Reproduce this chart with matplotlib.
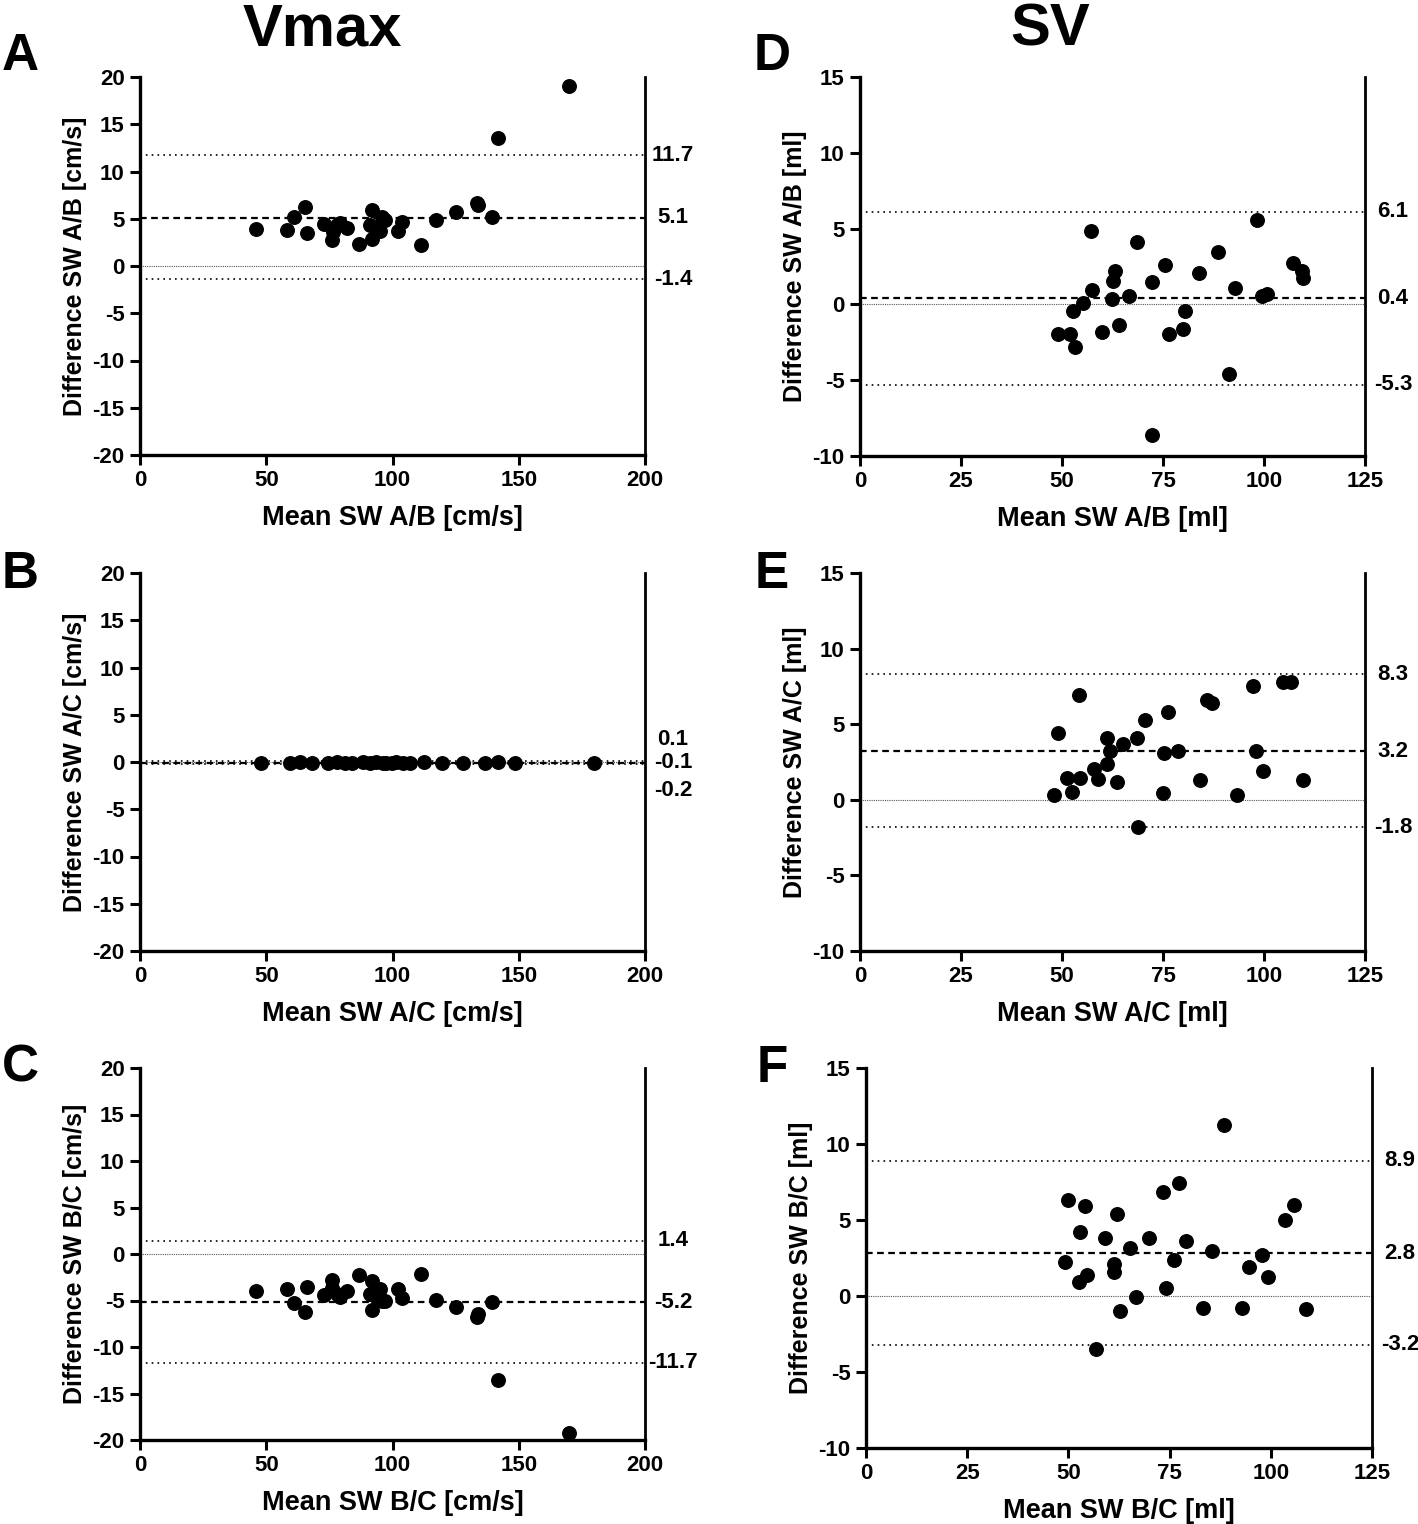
import matplotlib
matplotlib.use("Agg")
import matplotlib.pyplot as plt

plt.rcParams['font.family'] = ['Liberation Sans', 'DejaVu Sans']
plt.rcParams['font.weight'] = 'bold'
plt.rcParams['axes.unicode_minus'] = False

# ---------------- data ----------------
# Panel A: Vmax, SW A vs B
mean_A = [45.8, 58.1, 61.1, 65.3, 66.1, 72.9, 75.9, 76.5, 78.0, 79.2, 81.9, 86.9,
          91.1, 91.9, 91.9, 93.5, 95.0, 95.7, 97.0, 102.3, 103.6, 111.3, 117.2,
          125.0, 133.3, 134.0, 139.3, 141.9, 169.9]
diff_A = [3.9, 3.8, 5.2, 6.2, 3.5, 4.4, 2.7, 3.6, 4.3, 4.5, 4.0, 2.3,
          4.3, 5.9, 2.9, 4.0, 3.7, 5.2, 4.9, 3.7, 4.7, 2.2, 4.9,
          5.7, 6.7, 6.5, 5.2, 13.5, 19.1]
loa_A = [11.7, 5.1, -1.4]

# Panel B: Vmax, SW A vs C
mean_B = [47.8, 59.4, 63.4, 68.0, 74.6, 77.9, 81.2, 83.8, 88.2, 91.0, 93.5, 96.1,
          97.5, 99.7, 101.5, 104.3, 106.9, 112.5, 119.7, 128.0, 136.6, 141.9,
          148.5, 179.8]
diff_B = [-0.1, -0.1, 0.0, -0.1, -0.1, 0.0, -0.1, -0.1, 0.0, -0.1, 0.0, -0.1,
          -0.1, -0.1, 0.0, -0.1, -0.1, 0.0, -0.1, -0.1, -0.1, 0.0,
          -0.1, -0.1]
loa_B = [0.1, -0.1, -0.2]

# Panel C: Vmax, SW B vs C
mean_C = [45.8, 58.1, 61.1, 65.3, 66.1, 72.9, 75.9, 76.2, 78.0, 79.2, 81.9, 86.9,
          91.1, 91.9, 91.9, 93.7, 95.0, 95.7, 97.0, 102.3, 103.6, 111.3, 117.2,
          125.0, 133.3, 134.0, 139.3, 141.9, 169.9]
diff_C = [-4.0, -3.8, -5.3, -6.2, -3.5, -4.4, -3.7, -2.8, -4.3, -4.6, -4.0, -2.3,
          -4.3, -6.0, -2.9, -4.7, -3.8, -5.0, -5.0, -3.8, -4.7, -2.2, -4.9,
          -5.7, -6.8, -6.5, -5.2, -13.5, -19.3]
loa_C = [1.4, -5.2, -11.7]

# Panel D: SV, SW A vs B
mean_D = [57.2, 68.5, 98.2, 88.5, 107.3, 109.3, 109.6, 63.1, 62.7, 75.5, 83.8, 72.4,
          57.4, 62.3, 66.7, 92.9, 99.4, 100.7, 55.1, 52.8, 80.5, 49.1, 52.1, 53.3,
          59.8, 64.0, 76.4, 79.9, 91.4, 72.3]
diff_D = [4.85, 4.1, 5.55, 3.45, 2.75, 2.2, 1.75, 2.2, 1.55, 2.6, 2.1, 1.5,
          0.97, 0.35, 0.55, 1.08, 0.53, 0.66, 0.09, -0.44, -0.44, -1.94, -1.94, -2.82,
          -1.85, -1.34, -1.94, -1.63, -4.6, -8.6]
loa_D = [6.1, 0.4, -5.3]

# Panel E: SV, SW A vs C
mean_E = [54.2, 48.9, 97.4, 104.8, 106.7, 85.8, 87.2, 76.2, 70.6, 61.2, 65.2, 68.5,
          61.9, 75.2, 78.8, 98.0, 61.1, 58.0, 59.0, 51.2, 54.5, 63.5, 99.7, 84.2,
          109.7, 48.0, 52.4, 75.1, 93.2, 68.9]
diff_E = [6.9, 4.4, 7.5, 7.8, 7.8, 6.6, 6.4, 5.8, 5.3, 4.1, 3.7, 4.1,
          3.2, 3.1, 3.2, 3.2, 2.4, 2.05, 1.4, 1.43, 1.43, 1.2, 1.9, 1.3,
          1.3, 0.3, 0.5, 0.45, 0.3, -1.8]
loa_E = [8.3, 3.2, -1.8]

# Panel F: SV, SW B vs C
mean_F = [88.4, 77.2, 73.3, 50.0, 54.1, 62.0, 105.8, 103.6, 52.8, 59.1, 70.0, 79.1,
          65.1, 85.5, 97.9, 76.2, 49.1, 61.2, 61.2, 94.6, 99.4, 54.5, 52.7, 74.2,
          66.6, 62.7, 83.3, 92.8, 108.7, 56.8]
diff_F = [11.26, 7.46, 6.84, 6.34, 5.92, 5.41, 6.0, 5.03, 4.2, 3.84, 3.84, 3.62,
          3.18, 2.93, 2.67, 2.38, 2.23, 2.12, 1.59, 1.94, 1.24, 1.35, 0.93, 0.53,
          -0.09, -0.97, -0.79, -0.79, -0.88, -3.49]
loa_F = [8.9, 2.8, -3.2]

ylabels = ["Difference SW A/B [cm/s]", "Difference SW A/C [cm/s]", "Difference SW B/C [cm/s]",
           "Difference SW A/B [ml]", "Difference SW A/C [ml]", "Difference SW B/C [ml]"]
xlabels = ["Mean SW A/B [cm/s]", "Mean SW A/C [cm/s]", "Mean SW B/C [cm/s]",
           "Mean SW A/B [ml]", "Mean SW A/C [ml]", "Mean SW B/C [ml]"]
letters = ["A", "B", "C", "D", "E", "F"]
col_titles = ["Vmax", "SV"]

# ---------------- figure ----------------
W, H = 1418, 1524
fig = plt.figure(figsize=(W / 100, H / 100), dpi=100)

def ax_at(l, t, r, b):
    return fig.add_axes([l / W, 1 - b / H, (r - l) / W, (b - t) / H])

boxes = [(140, 77, 645, 455), (140, 573, 645, 951), (140, 1068, 645, 1440),
         (860, 77, 1365, 456), (860, 573, 1365, 951), (866, 1068, 1372, 1448)]
xs = [mean_A, mean_B, mean_C, mean_D, mean_E, mean_F]
ys = [diff_A, diff_B, diff_C, diff_D, diff_E, diff_F]
loas = [loa_A, loa_B, loa_C, loa_D, loa_E, loa_F]

for i in range(6):
    ax = ax_at(*boxes[i])
    vmax = i < 3
    if vmax:
        ax.set_xlim(0, 200)
        ax.set_ylim(-20, 20)
        ax.set_xticks(range(0, 201, 50))
        ax.set_yticks(range(-20, 21, 5))
    else:
        ax.set_xlim(0, 125)
        ax.set_ylim(-10, 15)
        ax.set_xticks(range(0, 126, 25))
        ax.set_yticks(range(-10, 16, 5))
    for s in ['left', 'bottom']:
        ax.spines[s].set_linewidth(2.4)
    ax.spines['right'].set_linewidth(2.0)
    ax.spines['top'].set_visible(False)
    ax.tick_params(axis='both', direction='out', length=7, width=2.2,
                   labelsize=16, pad=4)
    for lab in ax.get_xticklabels() + ax.get_yticklabels():
        lab.set_fontweight('bold')

    hi, mid, lo = loas[i]
    ax.axhline(0, color='#555555', lw=0.8, ls=(0, (1, 1)), zorder=1)
    ax.axhline(hi, color='black', lw=1.2, ls=(0, (1, 2.5)), zorder=1)
    ax.axhline(lo, color='black', lw=1.2, ls=(0, (1, 2.5)), zorder=1)
    ax.axhline(mid, color='black', lw=1.6, ls=(0, (3, 2)), zorder=1)

    ax.scatter(xs[i], ys[i], s=95, color='black', zorder=3, clip_on=False)

    ax.set_xlabel(xlabels[i], fontsize=19.5, fontweight='bold', labelpad=10)
    ax.set_ylabel(ylabels[i], fontsize=18, fontweight='bold', labelpad=4)

    tx = 1.0 + 28 / 505
    tr = ax.get_yaxis_transform()
    if i == 1:
        offs = [17, 0, -20]
        for v, o in zip(loas[i], offs):
            ax.annotate(f"{v:g}", xy=(tx, mid), xycoords=('axes fraction', 'data'),
                        xytext=(0, o), textcoords='offset points',
                        ha='center', va='center', fontsize=16, fontweight='bold',
                        annotation_clip=False)
    else:
        for v in loas[i]:
            ax.text(tx, v, f"{v:g}", transform=tr, ha='center', va='center',
                    fontsize=16, fontweight='bold', clip_on=False)

letter_pos = [(20, 70), (20, 588), (20, 1082), (772, 70), (772, 588), (772, 1082)]
for L, (x, y) in zip(letters, letter_pos):
    fig.text(x / W, 1 - y / H, L, fontsize=37, fontweight='bold', ha='center', va='baseline')

fig.text(322 / W, 1 - 45 / H, col_titles[0], fontsize=43, fontweight='bold', ha='center', va='baseline')
fig.text(1050 / W, 1 - 45 / H, col_titles[1], fontsize=43, fontweight='bold', ha='center', va='baseline')

fig.savefig("out.png", dpi=100)
